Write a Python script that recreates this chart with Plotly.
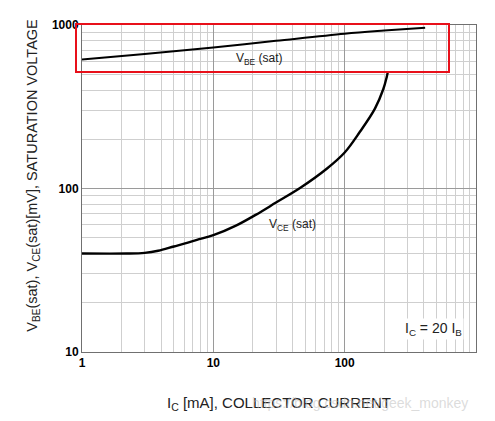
import plotly.graph_objects as go

ic_vbe = [1, 3, 10, 30, 100, 200, 410]
vbe_sat = [615, 665, 728, 800, 885, 925, 963]

ic_vce = [1, 2.2, 3, 3.8, 5, 6, 7.5, 10, 15, 21, 30, 46, 73, 100, 131, 170, 197, 209, 213]
vce_sat = [40, 40, 40.4, 41.6, 44.2, 46, 48.5, 51.8, 59.5, 69, 82, 101, 132, 166, 223, 308, 406, 480, 515]

major_ticks = [1, 10, 100, 1000]
major_labels = ["1", "10", "100", "1000"]
minor_ticks = [m * d for d in (1, 10, 100) for m in range(2, 10)]

# Fenster 495x421, die Seite hat 8px Body-Rand
OFF = 8
W, H = 495 - 2 * OFF, 421 - 2 * OFF
# Plotbereich in Fensterpixeln
L, R, T, B = 82, 476, 18, 352


def px(x):
    return (x - L) / (R - L)


def py(y):
    return (B - y) / (B - T)


FONT = "Liberation Sans, Arial, sans-serif"

fig = go.Figure()

fig.add_trace(go.Scatter(
    x=ic_vbe, y=vbe_sat, mode="lines",
    line=dict(color="black", width=2, shape="spline"),
    showlegend=False,
))
fig.add_trace(go.Scatter(
    x=ic_vce, y=vce_sat, mode="lines",
    line=dict(color="black", width=2.4, shape="spline", smoothing=1),
    showlegend=False,
))

axis_common = dict(
    type="log",
    tickmode="array",
    tickvals=major_ticks,
    ticktext=major_labels,
    showgrid=True,
    gridcolor="#9a9a9a",
    gridwidth=1,
    minor=dict(tickmode="array", tickvals=minor_ticks, showgrid=True,
               gridcolor="#cfcfcf", gridwidth=1),
    showline=True,
    linecolor="#707070",
    linewidth=1,
    mirror=True,
    ticks="",
    zeroline=False,
    tickfont=dict(family=FONT, size=12, color="black", weight="bold"),
)

fig.update_xaxes(range=[0, 3], **axis_common)
fig.update_yaxes(range=[1, 3], **axis_common)

# roter Rahmen um VBE(sat)
fig.add_shape(
    type="rect", xref="paper", yref="paper",
    x0=px(76), x1=px(449), y0=py(66), y1=py(17),
    line=dict(color="#e8101a", width=2),
)

ann = [
    dict(text="V<sub>BE</sub> (sat)", x=px(259), y=py(53), size=12),
    dict(text="V<sub>CE</sub> (sat)", x=px(292), y=py(222), size=12),
    dict(text="I<sub>C</sub> = 20 I<sub>B</sub>", x=px(433), y=py(328), size=14,
         bgcolor="white"),
    dict(text="I<sub>C</sub> [mA], COLLECTOR CURRENT", x=px(279), y=py(405), size=15),
]
for a in ann:
    fig.add_annotation(
        text=a["text"], x=a["x"], y=a["y"], xref="paper", yref="paper",
        showarrow=False, xanchor="center", yanchor="middle",
        font=dict(family=FONT, size=a["size"], color="#222"),
        bgcolor=a.get("bgcolor", "rgba(0,0,0,0)"),
    )

fig.add_annotation(
    text="V<sub>BE</sub>(sat), V<sub>CE</sub>(sat)[mV], SATURATION VOLTAGE",
    x=px(33), y=py(172), xref="paper", yref="paper", textangle=-90,
    showarrow=False, xanchor="center", yanchor="middle",
    font=dict(family=FONT, size=14.5, color="#222"),
)

# Wasserzeichen
fig.add_annotation(
    text="https://blog.csdn.net/geek_monkey",
    x=px(360), y=py(404), xref="paper", yref="paper",
    showarrow=False, xanchor="center", yanchor="middle",
    font=dict(family=FONT, size=14, color="rgba(190,190,190,0.55)"),
)

fig.update_layout(
    width=W, height=H,
    margin=dict(l=L - OFF, r=(OFF + W) - R, t=T - OFF, b=(OFF + H) - B),
    plot_bgcolor="white",
    paper_bgcolor="white",
    showlegend=False,
)

fig.write_html("out.html")
